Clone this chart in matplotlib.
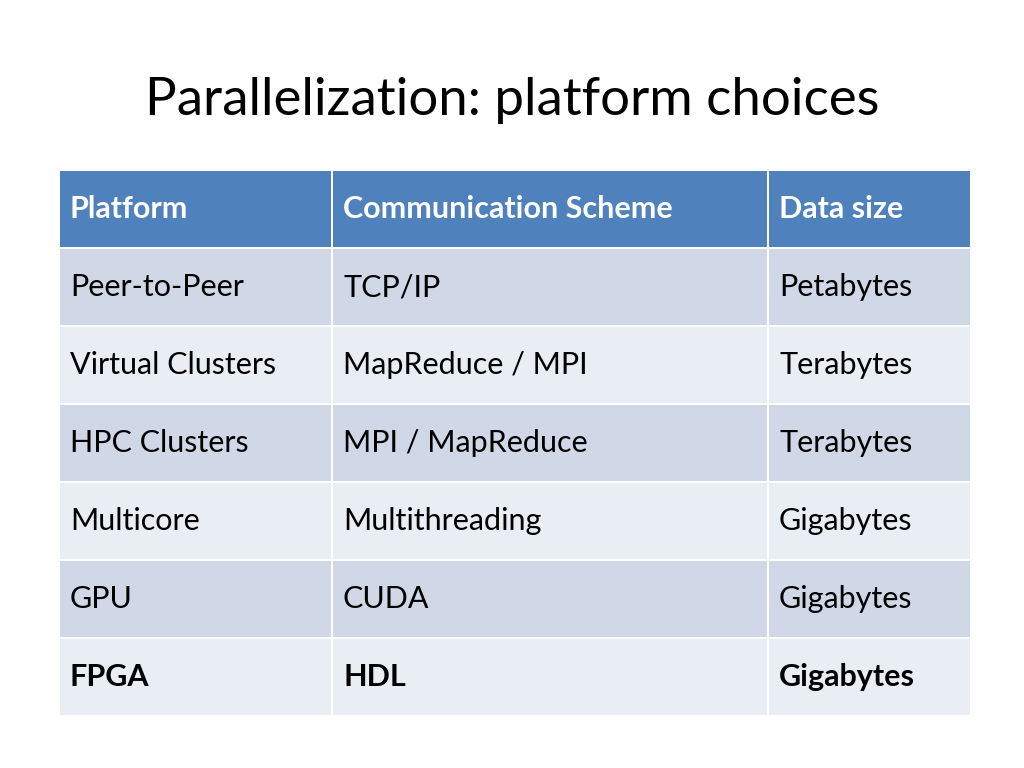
import matplotlib.pyplot as plt
from matplotlib.patches import Rectangle

plt.rcParams['font.family'] = ['Lato', 'DejaVu Sans']

title = 'Parallelization: platform choices'
headers = ['Platform', 'Communication Scheme', 'Data size']
platforms = ['Peer-to-Peer', 'Virtual Clusters', 'HPC Clusters', 'Multicore', 'GPU', 'FPGA']
schemes = ['TCP/IP', 'MapReduce / MPI', 'MPI / MapReduce', 'Multithreading', 'CUDA', 'HDL']
sizes = ['Petabytes', 'Terabytes', 'Terabytes', 'Gigabytes', 'Gigabytes', 'Gigabytes']
bold_rows = [5]

col_edges = [60, 333, 769, 972]
top = 171
row_h = 78
gap = 2
header_color = '#4F81BD'
row_colors = ['#D0D8E8', '#E9EDF4']

fig = plt.figure(figsize=(10.24, 7.68), dpi=100)
ax = fig.add_axes([0, 0, 1, 1])
ax.set_xlim(0, 1024)
ax.set_ylim(768, 0)
ax.axis('off')

ax.text(512, 100, title, fontsize=38, ha='center', va='center')

rows = [headers] + [list(r) for r in zip(platforms, schemes, sizes)]
for i, row in enumerate(rows):
    y0 = top + i * row_h
    color = header_color if i == 0 else row_colors[(i - 1) % 2]
    for j, txt in enumerate(row):
        x0 = col_edges[j]
        w = col_edges[j + 1] - col_edges[j] - gap
        ax.add_patch(Rectangle((x0, y0), w, row_h - gap, facecolor=color, edgecolor='none'))
        bold = i == 0 or (i - 1) in bold_rows
        ax.text(x0 + 10, y0 + (row_h - gap) / 2, txt, fontsize=22,
                color='white' if i == 0 else 'black',
                fontweight='bold' if bold else 'normal', ha='left', va='center')

fig.savefig('out.png', dpi=100)
